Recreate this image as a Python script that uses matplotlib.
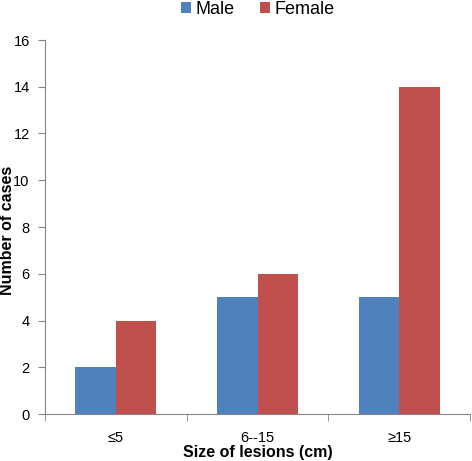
import matplotlib
matplotlib.use("Agg")
import matplotlib.pyplot as plt
import numpy as np

categories = ["≤5", "6--15", "≥15"]
male = [2, 5, 5]
female = [4, 6, 14]

plt.rcParams['font.family'] = ['Liberation Sans', 'DejaVu Sans']

fig = plt.figure(figsize=(4.72, 4.61), dpi=100)
ax = fig.add_axes([45/472, 1-414/461, 425/472, 374/461])

x = np.arange(len(categories))
w = 0.287
ax.bar(x - w/2, male, w, color='#4F81BD', label='Male')
ax.bar(x + w/2, female, w, color='#C0504D', label='Female')

ax.set_xlim(-0.5, 2.5)
ax.set_ylim(0, 16)
ax.set_yticks(range(0, 17, 2))
ax.set_xticks(x)
ax.set_xticklabels(categories, fontsize=10.5)
ax.set_xticks([-0.5, 0.5, 1.5, 2.5], minor=True)
ax.tick_params(axis='x', which='major', length=0, pad=12)
ax.tick_params(axis='x', which='minor', length=5, color='#868686', direction='out')
ax.tick_params(axis='y', length=5, color='#868686', direction='out', labelsize=10.5, pad=6)
for s in ['top', 'right']:
    ax.spines[s].set_visible(False)
for s in ['left', 'bottom']:
    ax.spines[s].set_color('#868686')
ax.set_xlabel('Size of lesions (cm)', fontsize=11.5, fontweight='bold')
ax.set_ylabel('Number of cases', fontsize=11.5, fontweight='bold')
ax.xaxis.label.set_va('center')
ax.yaxis.label.set_va('center')
ax.xaxis.set_label_coords((258-45)/425, -(452-414)/374)
ax.yaxis.set_label_coords((7.5-45)/425, 0.49)

fig.legend(loc='center', bbox_to_anchor=(258/472, 1-9/461), ncol=2, frameon=False,
           fontsize=13, handlelength=0.55, handleheight=0.55, handletextpad=0.25,
           columnspacing=1.4, borderpad=0)

fig.savefig('out.png', dpi=100)
